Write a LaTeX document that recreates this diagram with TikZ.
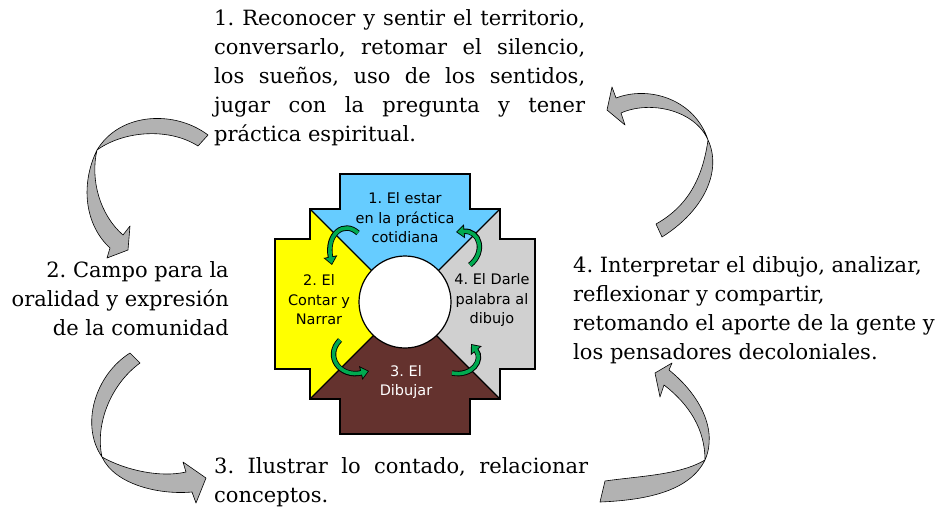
\documentclass[tikz,border=0pt]{standalone}
\usepackage{fontspec}
\setmainfont{DejaVu Serif}
\newfontfamily\chakanafont{DejaVu Sans}
\usetikzlibrary{arrows.meta}
\usetikzlibrary{positioning}

\definecolor{cielo}{RGB}{102,204,255}
\definecolor{amarillo}{RGB}{255,255,0}
\definecolor{gris}{RGB}{208,208,208}
\definecolor{cafe}{RGB}{100,50,46}
\definecolor{verde}{RGB}{0,170,80}
\definecolor{flecha}{RGB}{178,178,178}

\tikzset{
  texto/.style={inner sep=0pt, font=\fontsize{21}{29}\selectfont},
  etiqueta/.style={align=center, inner sep=0pt, font=\chakanafont\fontsize{14.5}{19.5}\selectfont},
  bloque/.style={fill=flecha, draw=black, line width=0.6pt, line join=round},
  vborde/.style={line width=5.4pt, -{Triangle[length=8.5pt,width=13.5pt]}},
  vrelleno/.style={line width=3.6pt, verde, -{Triangle[length=6.3pt,width=10pt]}, shorten >=1.3pt}
}

\newcommand{\linea}[2]{\makebox[#1][s]{#2}}
\frenchspacing

\begin{document}
\begin{tikzpicture}[x=1pt,y=-1pt]
  \useasboundingbox (0,0) rectangle (952,509);

  % ---------- Chakana ----------

  % Colored quarters
  \begin{scope}[shift={(405,304)}]
    \fill[cielo] (-95,-95) -- (-65,-95) -- (-65,-130) -- (65,-130) -- (65,-95) -- (95,-95) -- (0,0) -- cycle;
    \fill[amarillo] (-95,-95) -- (-95,-65) -- (-130,-65) -- (-130,65) -- (-95,65) -- (-95,95) -- (0,0) -- cycle;
    \fill[cafe] (-95,95) -- (-65,95) -- (-65,130) -- (65,130) -- (65,95) -- (95,95) -- (0,0) -- cycle;
    \fill[gris] (95,-95) -- (95,-65) -- (130,-65) -- (130,65) -- (95,65) -- (95,95) -- (0,0) -- cycle;

    % Diagonals and outline
    \draw[line width=1.2pt] (-95,-95) -- (95,95) (95,-95) -- (-95,95);
    \draw[line width=2pt, line join=miter]
      (-65,-130) -- (65,-130) -- (65,-95) -- (95,-95) -- (95,-65) -- (130,-65)
      -- (130,65) -- (95,65) -- (95,95) -- (65,95) -- (65,130) -- (-65,130)
      -- (-65,95) -- (-95,95) -- (-95,65) -- (-130,65) -- (-130,-65)
      -- (-95,-65) -- (-95,-95) -- (-65,-95) -- cycle;
    \filldraw[fill=white, line width=1.2pt] (0,-2) circle (46);
  \end{scope}

  % Labels
  \node[etiqueta] at (405,218) (estar) {1. El estar\\en la práctica\\cotidiana};
  \node[etiqueta] at (319,300) (contar) {2. El\\Contar y\\Narrar};
  \node[etiqueta, text=white] at (406,382) (dibujar) {3. El\\Dibujar};
  \node[etiqueta] at (492,300) (darle) {4. El Darle\\palabra al\\dibujo};

  % Green arrows
  \coordinate (g1a) at (358,233);
  \coordinate (g1b) at (332,265);
  \coordinate (g2a) at (470,265);
  \coordinate (g2b) at (456,232);
  \coordinate (g3a) at (340,340);
  \coordinate (g3b) at (369,371);
  \coordinate (g4a) at (452,373);
  \coordinate (g4b) at (471,344);
  \foreach \capa in {vborde,vrelleno} {
    \draw[\capa] (g1a) .. controls (344,220) and (326,234) .. (g1b);
    \draw[\capa] (g2a) .. controls (486,252) and (480,230) .. (g2b);
    \draw[\capa] (g3a) .. controls (324,356) and (340,378) .. (g3b);
    \draw[\capa] (g4a) .. controls (472,377) and (484,360) .. (g4b);
  }

  % ---------- Texts ----------
  \node[texto, anchor=north west, align=left] at (214,9) (paso1)
    {\linea{371pt}{1. Reconocer y sentir el territorio,}\\
     \linea{371pt}{conversarlo, retomar el silencio,}\\
     \linea{371pt}{los sueños, uso de los sentidos,}\\
     \linea{371pt}{jugar con la pregunta y tener}\\
     práctica espiritual.};
  \node[texto, anchor=north east, align=right] at (229,261) (paso2)
    {2. Campo para la\\oralidad y expresión\\de la comunidad};
  \node[texto, anchor=north west, align=left] at (214,457) (paso3)
    {\linea{374pt}{3. Ilustrar lo contado, relacionar}\\conceptos.};
  \node[texto, anchor=north west, align=left] at (573,256) (paso4)
    {4. Interpretar el dibujo, analizar,\\reflexionar y compartir,\\retomando el aporte de la gente y\\los pensadores decoloniales.};

  % ---------- Big curved arrows ----------

  % 1 -> 2
  \draw[bloque] (208,135) .. controls (175,110) and (120,112) .. (97,150)
    .. controls (80,185) and (85,225) .. (110,248) -- (107,258) -- (128,250)
    -- (130,226) -- (123,235) .. controls (100,215) and (90,180) .. (97,150)
    .. controls (125,130) and (170,128) .. (198,146) -- cycle;

  % 4 -> 1
  \draw[bloque] (616,98) -- (612,87) -- (607,110) -- (625,125) -- (621,113)
    .. controls (650,100) and (695,110) .. (708,140)
    .. controls (703,175) and (690,205) .. (656,224) -- (662,237)
    .. controls (705,210) and (722,170) .. (708,140)
    .. controls (695,100) and (650,85) .. (616,98) -- cycle;

  % 2 -> 3
  \draw[bloque] (130,353) .. controls (95,375) and (80,425) .. (102,457)
    .. controls (115,485) and (160,495) .. (192,492) -- (196,503) -- (206,478)
    -- (183,462) -- (186,472) .. controls (160,478) and (125,470) .. (102,457)
    .. controls (95,425) and (110,385) .. (140,363) -- cycle;

  % 3 -> 4
  \draw[bloque] (669,370) .. controls (700,395) and (718,430) .. (705,460)
    .. controls (690,490) and (650,500) .. (600,502) -- (605,481)
    .. controls (640,476) and (680,475) .. (705,460)
    .. controls (705,430) and (690,405) .. (664,385) -- (660,397) -- (655,373)
    -- (672,363) -- cycle;
\end{tikzpicture}
\end{document}
